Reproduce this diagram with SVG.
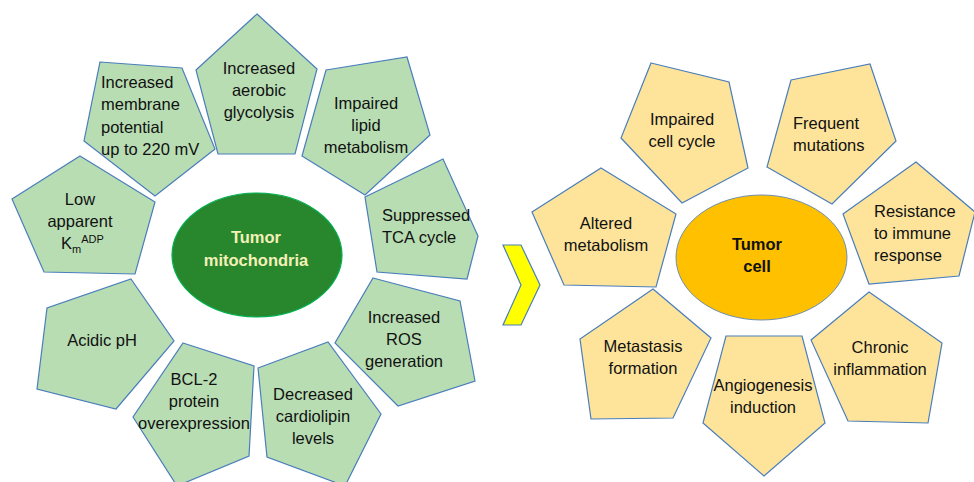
<svg xmlns="http://www.w3.org/2000/svg" width="974" height="482" viewBox="0 0 974 482">
<style>
.g{fill:#b8ddb3;stroke:#4a7ebb;stroke-width:1.2}
.y{fill:#fee49b;stroke:#4a7ebb;stroke-width:1.2}
text{font-family:"Liberation Sans",Arial,sans-serif;font-size:16.5px;fill:#111}
.c{text-anchor:middle}
.b{font-weight:bold}
</style>
<rect width="974" height="482" fill="#fff"/>
<g id="connectors">
<path id="chevron" d="M503,245 L521,245 L540,285 L521,325 L503,325 L521,285 Z" fill="#ffff00" stroke="#4a7ebb" stroke-width="1.2"/>
</g>
<g id="glycolysis"><polygon class="g" points="257,14 317,69 295,154 218,154 196,70"/>
<text class="c" x="259" y="74">Increased</text><text class="c" x="259" y="96">aerobic</text><text class="c" x="259" y="118">glycolysis</text></g>
<g id="membrane"><polygon class="g" points="100,62 182,68 215,149 155,196 84,141"/>
<text x="101" y="88">Increased</text><text x="101" y="110">membrane</text><text x="101" y="133">potential</text><text x="101" y="155">up to 220 mV</text></g>
<g id="lipid"><polygon class="g" points="326,70 407,57 430,135 365,195 302,156"/>
<text class="c" x="366" y="109">Impaired</text><text class="c" x="366" y="131">lipid</text><text class="c" x="366" y="153">metabolism</text></g>
<g id="km"><polygon class="g" points="80,156 155,202 135,274 44,272 12,199"/>
<text class="c" x="80" y="205">Low</text><text class="c" x="80" y="227">apparent</text>
<text x="61" y="249">K<tspan font-size="11" dy="4">m</tspan><tspan font-size="11" dy="-10">ADP</tspan></text></g>
<g id="tca"><polygon class="g" points="365,197 443,159 478,236 467,279 377,272"/>
<text x="382" y="221">Suppressed</text><text x="382" y="243">TCA cycle</text></g>
<g id="acidic"><polygon class="g" points="131,279 174,341 116,409 37,389 47,308"/>
<text class="c" x="102" y="346">Acidic pH</text></g>
<g id="bcl2"><polygon class="g" points="183,343 254,366 249,456 177,486 133,417"/>
<text class="c" x="194" y="385">BCL-2</text><text class="c" x="194" y="407">protein</text><text class="c" x="194" y="429">overexpression</text></g>
<g id="cardiolipin"><polygon class="g" points="258,368 328,342 381,414 345,486 267,457"/>
<text class="c" x="313" y="400">Decreased</text><text class="c" x="313" y="422">cardiolipin</text><text class="c" x="313" y="444">levels</text></g>
<g id="ros"><polygon class="g" points="373,278 460,301 475,381 398,406 335,343"/>
<text class="c" x="404" y="323">Increased</text><text class="c" x="404" y="345">ROS</text><text class="c" x="404" y="367">generation</text></g>
<g id="tumor-mitochondria"><ellipse cx="257" cy="255" rx="85" ry="62" fill="#28862c" stroke="#00b050" stroke-width="1.2"/>
<text class="c b" x="256" y="243" fill="#f4f1b8" style="fill:#f4f1b8">Tumor</text><text class="c b" x="256" y="266" style="fill:#f4f1b8">mitochondria</text></g>
<g id="cellcycle"><polygon class="y" points="651,63 729,82 748,168 682,203 621,138"/>
<text class="c" x="682" y="125">Impaired</text><text class="c" x="682" y="147">cell cycle</text></g>
<g id="mutations"><polygon class="y" points="791,80 870,64 896,141 832,204 767,167"/>
<text x="793" y="129">Frequent</text><text x="793" y="151">mutations</text></g>
<g id="altered"><polygon class="y" points="601,168 676,214 656,287 564,285 532,212"/>
<text class="c" x="606" y="229">Altered</text><text class="c" x="606" y="251">metabolism</text></g>
<g id="immune"><polygon class="y" points="916,162 975,212 959,276 869,284 843,214"/>
<text x="874" y="217">Resistance</text><text x="874" y="239">to immune</text><text x="874" y="261">response</text></g>
<g id="tumor-cell"><ellipse cx="761.5" cy="257.5" rx="85.5" ry="62.5" fill="#ffc000" stroke="#6f8fae" stroke-width="1"/>
<text class="c b" x="757" y="250">Tumor</text><text class="c b" x="757" y="272">cell</text></g>
<g id="metastasis"><polygon class="y" points="653,289 711,338 673,418 591,419 580,339"/>
<text class="c" x="643" y="352">Metastasis</text><text class="c" x="643" y="374">formation</text></g>
<g id="angiogenesis"><polygon class="y" points="726,336 802,336 825,423 764,476 703,423"/>
<text class="c" x="763" y="391">Angiogenesis</text><text class="c" x="763" y="413">induction</text></g>
<g id="inflammation"><polygon class="y" points="869,292 942,343 928,423 848,421 811,340"/>
<text class="c" x="880" y="353">Chronic</text><text class="c" x="880" y="375">inflammation</text></g>
</svg>
